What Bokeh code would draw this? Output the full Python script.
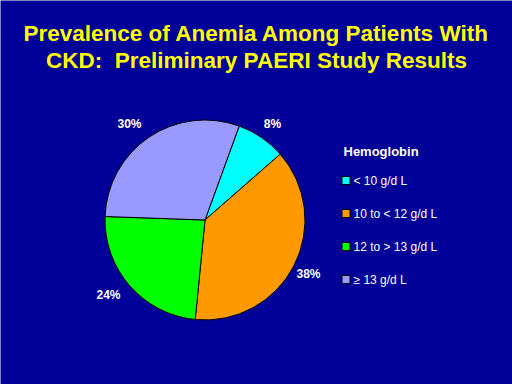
import numpy as np
from bokeh.plotting import figure
from bokeh.models import Range1d
from bokeh.core.properties import value
from bokeh.embed import file_html
from bokeh.resources import INLINE

# Data
categories = ["< 10 g/d L", "10 to < 12 g/d L", "12 to > 13 g/d L", "\u2265 13 g/d L"]
percents = [8, 38, 24, 30]
colors = ["#00FFFF", "#FF9900", "#00FF00", "#9999FF"]
pct_labels = ["8%", "38%", "24%", "30%"]
title_lines = ["Prevalence of Anemia Among Patients With", "CKD:\u00a0 Preliminary PAERI Study Results"]
legend_title = "Hemoglobin"

BG = "#000099"
H = 384

def Y(y):
    return H - y

p = figure(width=512, height=384, output_backend="svg", toolbar_location=None,
           x_range=Range1d(0, 512), y_range=Range1d(0, 384),
           x_axis_location=None, y_axis_location=None, min_border=0)
p.grid.visible = False
p.outline_line_color = None
p.background_fill_color = BG
p.border_fill_color = BG

# Pie
cx, cy, r = 204.5, Y(219.5), 100
start = np.deg2rad(70.0)
fr = np.array(percents) / sum(percents)
cum = np.concatenate([[0], np.cumsum(fr)])
a_from = start - 2 * np.pi * cum[:-1]
a_to = start - 2 * np.pi * cum[1:]
p.wedge(x=cx, y=cy, radius=r, start_angle=a_to, end_angle=a_from,
        fill_color=colors, line_color="black", line_width=1)

# Percent labels
lx = [272, 308, 108, 129]
ly = [Y(123), Y(273), Y(294), Y(123)]
p.text(x=lx, y=ly, text=pct_labels, text_color="white", text_font=value("Liberation Sans"),
       text_font_style="bold", text_font_size="12px", text_align="center", text_baseline="middle")

# Title
p.text(x=[256, 256], y=[Y(33), Y(60)], text=title_lines, text_color="#FFFF00",
       text_font=value("Liberation Sans"), text_font_style="bold", text_font_size="22.5px",
       text_align="center", text_baseline="middle")

# Legend
p.text(x=[343], y=[Y(151)], text=[legend_title], text_color="white",
       text_font=value("Liberation Sans"), text_font_style="bold", text_font_size="13px",
       text_align="left", text_baseline="middle")
ry = [Y(180), Y(213), Y(246), Y(279)]
p.rect(x=[345.5] * 4, y=ry, width=8, height=8, fill_color=colors, line_color="black", line_width=1)
p.text(x=[353] * 4, y=ry, text=categories, text_color="white",
       text_font=value("Liberation Sans"), text_font_size="12px",
       text_align="left", text_baseline="middle")

open("out.html", "w").write(file_html(p, INLINE))
